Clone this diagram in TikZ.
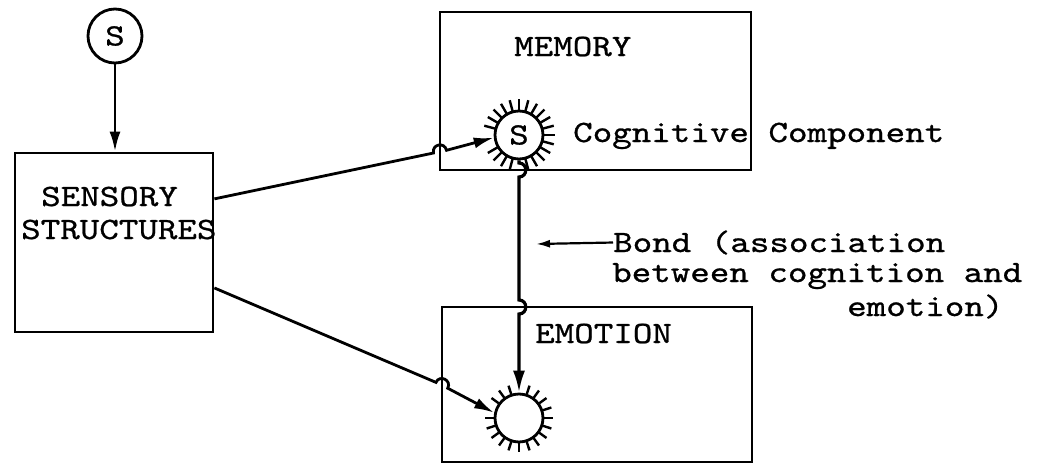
\documentclass[tikz,border=0pt]{standalone}
\usepackage{fontspec}
\newfontfamily\tw{lmmono10-regular.otf}[FakeStretch=1.2,FakeBold=0.8]
\usetikzlibrary{arrows.meta,calc}
\begin{document}
\begin{tikzpicture}[x=1pt,y=-1pt,
  lw/.style={line width=2.8pt},
  box/.style={draw,lw,inner sep=0pt,rectangle},
  txt/.style={font=\tw\fontsize{31}{37}\selectfont,inner sep=0pt,anchor=base west},
  sun/.style={draw,lw,circle,inner sep=0pt,font=\tw\fontsize{31}{37}\selectfont},
  spike/.style={line width=2.4pt},
  arr/.style={lw,-{Latex[length=20pt,width=11pt]}},
  bondline/.style={line width=3.2pt,-{Latex[length=22pt,width=12pt]}},
  lblarr/.style={line width=2.2pt,-{Latex[length=14pt,width=8pt]}}
]
\fill[white] (0,0) rectangle (1044,466);
\useasboundingbox (0,0) rectangle (1044,466);

% boxes
\node[box,minimum width=198pt,minimum height=179pt] (sens) at (114,242.5) {};
\node[box,minimum width=311pt,minimum height=158pt] (mem) at (595.5,91) {};
\node[box,minimum width=310pt,minimum height=155pt] (emo) at (597,384.5) {};

% labels
\node[txt] (sens1) at (41,206) {SENSORY};
\node[txt] (sens2) at (21,239) {STRUCTURES};
\node[txt] (memlbl) at (514,56) {MEMORY};
\node[txt] (emolbl) at (535,343) {EMOTION};
\node[txt] (cog) at (573,142) {Cognitive Component};
\node[txt] (bond1) at (613,252) {Bond (association};
\node[txt] (bond2) at (612,282) {between cognition and};
\node[txt] (bond3) at (847,316) {emotion)};

% circles
\node[sun,minimum size=54pt] (src) at (115,36) {S};
\node[sun,minimum size=48pt] (memc) at (519,135) {S};
\node[sun,minimum size=48pt] (emoc) at (519,418) {};

% spikes
\foreach \a in {0,15,...,75,105,120,...,150,195,210,...,345}
  \draw[spike] ($(memc.center)+(\a:25)$) -- ($(memc.center)+(\a:36)$);
\foreach \a in {0,18,...,180,216,234,252,288,306,324,342}
  \draw[spike] ($(emoc.center)+(\a:25)$) -- ($(emoc.center)+(\a:34)$);

% stimulus to sensory
\draw[arr] (src.south) -- (src.south |- sens.north);

% sensory to memory (hop over memory box edge)
\coordinate (h1a) at (433.5,153.0);
\coordinate (h1b) at (446.5,150.3);
\draw[arr] ($(sens.north east)!0.26!(sens.south east)$) -- (h1a)
  .. controls (431.6,144.2) and (444.6,141.5) .. (h1b) -- (memc.186);

% sensory to emotion (hop over emotion box edge)
\coordinate (h2a) at (436.0,382.4);
\coordinate (h2b) at (447.7,388.2);
\draw[arr] ($(sens.north east)!0.75!(sens.south east)$) -- (h2a)
  .. controls (439.5,374.1) and (452.1,380.3) .. (h2b) -- (emoc.168);

% bond
\coordinate (h3a) at (519,163);
\coordinate (h3b) at (519,177);
\coordinate (h4a) at (519,300);
\coordinate (h4b) at (519,314);
\draw[bondline] (memc.south) -- (h3a) .. controls (528,163) and (528,177) .. (h3b)
  -- (h4a) .. controls (528,300) and (528,314) .. (h4b) -- (emoc.north);

% bond label arrow
\coordinate (btip) at (536,244);
\draw[lblarr] (bond1.west) -- (btip);
\end{tikzpicture}
\end{document}
